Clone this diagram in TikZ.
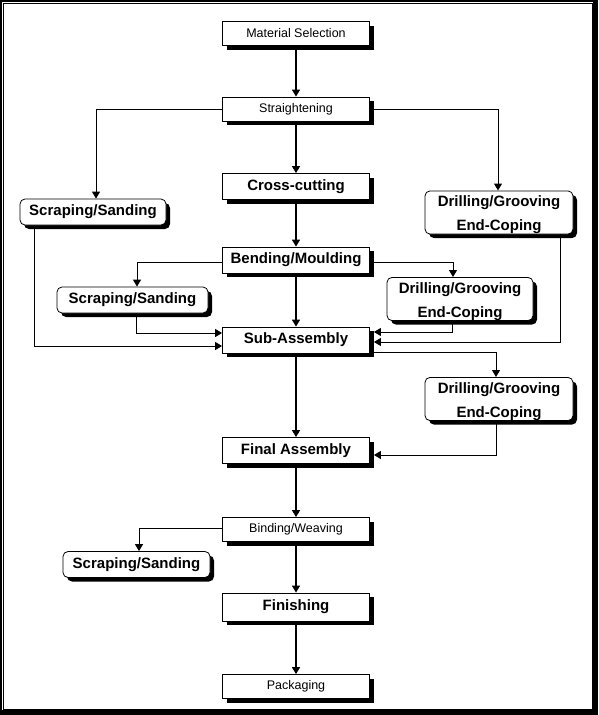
\documentclass[tikz,border=0pt]{standalone}
\usepackage{fontspec}
\setmainfont{Liberation Sans}
\usetikzlibrary{arrows.meta,shadows}

\begin{document}
\begin{tikzpicture}[x=1pt,y=-1pt,
  box/.style={draw,fill=white,line width=0.8pt,minimum width=147,minimum height=24,inner sep=0pt,
    font=\fontsize{12.5}{14}\selectfont,
    drop shadow={fill=black,opacity=1,shadow xshift=4pt,shadow yshift=-4pt}},
  boldbox/.style={box,minimum height=26,font=\fontsize{15}{17}\selectfont\bfseries},
  roundbox/.style={boldbox,rounded corners=5pt},
  drillbox/.style={roundbox,minimum width=148,minimum height=41,align=center,
    font=\fontsize{15}{24}\selectfont\bfseries},
  arr/.style={-{Triangle[length=7pt,width=8pt]},line width=1.5pt},
  link/.style={-{Triangle[length=7pt,width=8pt]},line width=1pt}]
\useasboundingbox (0,0) rectangle (598,715);
% frame
\fill (0,0) rectangle (598,715);
\fill[white] (1.7,1.7) rectangle (593,710);
\draw[line width=1.3pt] (3.4,3.4) rectangle (593,710);
% main column
\node[box] (sel) at (296,33.5) {Material Selection};
\node[box] (str) at (296,109) {Straightening};
\node[boldbox] (cut) at (296,186.5) {Cross-cutting};
\node[boldbox] (bend) at (296,260) {Bending/Moulding};
\node[boldbox] (sub) at (296,340) {Sub-Assembly};
\node[boldbox] (fin) at (296,450.5) {Final Assembly};
\node[box] (bind) at (296,529.5) {Binding/Weaving};
\node[boldbox,minimum height=28] (finish) at (296,607) {Finishing};
\node[box] (pack) at (296,686.5) {Packaging};
% side operations
\node[roundbox,minimum width=146] (scrA) at (93,212) {Scraping/Sanding};
\node[drillbox] (drlA) at (499,212.5) {\rule{0pt}{16pt}Drilling/Grooving\\End-Coping};
\node[roundbox,minimum width=151] (scrB) at (132.5,300) {Scraping/Sanding};
\node[drillbox,minimum width=146] (drlB) at (460,299) {\rule{0pt}{16pt}Drilling/Grooving\\End-Coping};
\node[drillbox] (drlC) at (499,399) {\rule{0pt}{16pt}Drilling/Grooving\\End-Coping};
\node[roundbox] (scrC) at (136.5,564.5) {Scraping/Sanding};
% flow
\draw[arr] (sel)--(str); \draw[arr] (str)--(cut); \draw[arr] (cut)--(bend);
\draw[arr] (bend)--(sub); \draw[arr] (sub)--(fin); \draw[arr] (fin)--(bind);
\draw[arr] (bind)--(finish); \draw[arr] (finish)--(pack);
\draw[link] (str.west) -| ([xshift=3]scrA.north);
\draw[link] (str.east) -| ([xshift=-1]drlA.north);
\draw[link] ([yshift=-2]bend.west) -| ([xshift=4.5]scrB.north);
\draw[link] ([yshift=-2]bend.east) -| ([xshift=-7]drlB.north);
\draw[link] ([xshift=15]scrA.south west) |- ([yshift=-6]sub.west);
\draw[link] ([xshift=3.5]scrB.south) |- ([yshift=7]sub.west);
\draw[link] ([xshift=-8]drlB.south) |- ([xshift=4,yshift=8]sub.east);
\draw[link] ([xshift=61]drlA.south) |- ([xshift=4,yshift=-2]sub.east);
\draw[link] ([xshift=4,yshift=-12]sub.east) -| ([xshift=-3]drlC.north);
\draw[link] ([xshift=-3]drlC.south) |- ([xshift=4,yshift=-4.5]fin.east);
\draw[link] ([yshift=1.5]bind.west) -| ([xshift=2.5]scrC.north);
\end{tikzpicture}
\end{document}
